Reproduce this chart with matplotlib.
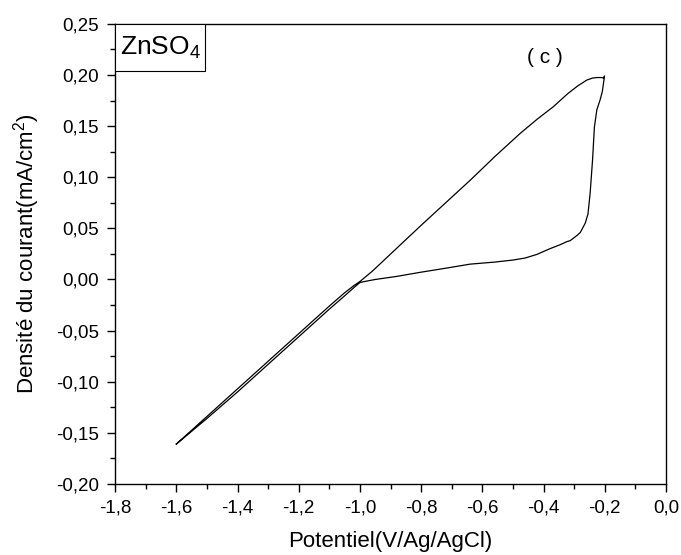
import matplotlib
matplotlib.use("Agg")
import matplotlib.pyplot as plt
from matplotlib.patches import Rectangle
from matplotlib.ticker import MultipleLocator, FuncFormatter

plt.rcParams["font.family"] = ["Liberation Sans", "DejaVu Sans"]
plt.rcParams["mathtext.default"] = "regular"

# voltammogram, one closed cycle (potential in V, current density in mA/cm2)
# cathodic leg: -1.6 -> -1.0
e_up = [-1.600, -1.500, -1.400, -1.300, -1.200, -1.100, -1.050, -1.020, -1.000]
j_up = [-0.161, -0.134, -0.107, -0.080, -0.053, -0.026, -0.013, -0.006, -0.002]
# linear rise up to the switching potential
e_rise = [-0.960, -0.800, -0.640, -0.560, -0.476, -0.420, -0.368, -0.346, -0.320,
          -0.290, -0.259, -0.240, -0.226, -0.212, -0.204, -0.201]
j_rise = [0.008, 0.053, 0.097, 0.120, 0.143, 0.157, 0.169, 0.175, 0.182,
          0.189, 0.195, 0.197, 0.1975, 0.1975, 0.197, 0.199]
# return sweep: steep drop then slow decay back to -1.0
e_back = [-0.208, -0.215, -0.226, -0.234, -0.240, -0.248, -0.255, -0.264, -0.280,
          -0.291, -0.313, -0.324, -0.346, -0.380, -0.422, -0.460, -0.500, -0.560,
          -0.640, -0.720, -0.803, -0.880, -0.950, -0.985, -1.000]
j_back = [0.184, 0.176, 0.166, 0.149, 0.117, 0.084, 0.064, 0.055, 0.046,
          0.043, 0.038, 0.037, 0.034, 0.030, 0.0245, 0.021, 0.019, 0.017,
          0.015, 0.011, 0.007, 0.003, 0.000, -0.002, -0.003]
# anodic leg back to -1.6
e_down = [-1.020, -1.050, -1.100, -1.200, -1.300, -1.400, -1.500, -1.600]
j_down = [-0.008, -0.016, -0.029, -0.056, -0.083, -0.110, -0.136, -0.161]

potential = e_up + e_rise + e_back + e_down
current = j_up + j_rise + j_back + j_down

fig = plt.figure(figsize=(6.81, 5.55), dpi=100)
ax = fig.add_axes([0.169, 0.128, 0.809, 0.829])

ax.plot(potential, current, color="black", lw=0.9, solid_joinstyle="round")

ax.set_xlim(-1.8, 0.0)
ax.set_ylim(-0.20, 0.25)
ax.xaxis.set_major_locator(MultipleLocator(0.2))
ax.xaxis.set_minor_locator(MultipleLocator(0.1))
ax.yaxis.set_major_locator(MultipleLocator(0.05))
ax.yaxis.set_minor_locator(MultipleLocator(0.025))
ax.xaxis.set_major_formatter(FuncFormatter(lambda v, p: "{:.1f}".format(v + 0.0).replace(".", ",")))
ax.yaxis.set_major_formatter(FuncFormatter(lambda v, p: "{:.2f}".format(v + 0.0).replace(".", ",")))

ax.tick_params(which="both", direction="out", top=False, right=False, width=1.0, labelsize=13.5)
ax.tick_params(which="major", length=5.5, pad=6)
ax.tick_params(which="minor", length=3.5)
for sp in ax.spines.values():
    sp.set_linewidth(1.0)

ax.set_xlabel("Potentiel(V/Ag/AgCl)", fontsize=16, labelpad=10)
ax.set_ylabel("Densité du courant(mA/cm$^2$)", fontsize=16, labelpad=10)

# electrolyte tag in a framed box, top-left corner
ax.add_patch(Rectangle((0.0, 0.898), 0.163, 0.102, transform=ax.transAxes,
                       fc="white", ec="black", lw=0.8, zorder=3))
ax.text(0.009, 0.933, "ZnSO$_4$", transform=ax.transAxes, fontsize=19,
        ha="left", va="baseline", zorder=4)
ax.text(-0.395, 0.2175, "( c )", fontsize=15, ha="center", va="center")

fig.savefig("out.png", dpi=100)
